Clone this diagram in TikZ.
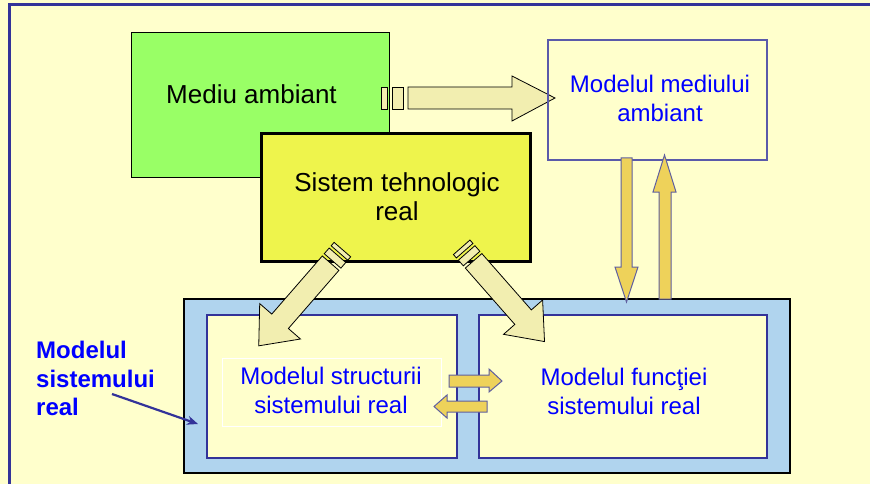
\documentclass[tikz,border=0pt]{standalone}
\usepackage{fontspec}
\setmainfont{Liberation Sans}
\usetikzlibrary{arrows.meta}
\definecolor{PaleYellow}{RGB}{255,255,204}
\definecolor{FrameBlue}{RGB}{51,51,153}
\definecolor{BoxBlue}{RGB}{90,90,170}
\definecolor{GreenBox}{RGB}{153,255,102}
\definecolor{LimeBox}{RGB}{238,244,76}
\definecolor{Khaki}{RGB}{242,238,176}
\definecolor{Gold}{RGB}{238,210,90}
\definecolor{GreyBlue}{RGB}{95,95,160}
\definecolor{SkyBox}{RGB}{176,212,238}

\tikzset{
  khakiarrow/.style={fill=Khaki, draw=black, line width=0.8pt},
  goldarrow/.style={fill=Gold, draw=GreyBlue, line width=1pt},
  innerbox/.style={fill=PaleYellow, draw=FrameBlue, line width=2pt},
  bluetext/.style={text=blue, font=\fontsize{24}{28.5}\selectfont, align=center, inner sep=0pt},
  blacktext/.style={text=black, font=\fontsize{26}{28.5}\selectfont, align=center, inner sep=0pt}
}

\begin{document}
\begin{tikzpicture}[x=1pt, y=-1pt]
            %% Background and frame
            \fill[PaleYellow] (0,0) rectangle (870,484);
            \useasboundingbox (0,0) rectangle (870,484);
            \draw[FrameBlue, line width=3pt] (9.5,484) -- (9.5,4.7) -- (870,4.7);
            %% Environment
            \draw[fill=GreenBox, line width=0.8pt] (131,32) rectangle (389,177);
            \node[blacktext, anchor=base] (mediu) at (251.5,104) {Mediu ambiant};
            \draw[khakiarrow] (381,87) rectangle (387,109);
            \draw[khakiarrow] (392,87) rectangle (403,109);
            \draw[khakiarrow] (408,87) -- (512,87) -- (512,76) -- (555,98) -- (512,121) -- (512,109) -- (408,109) -- cycle;
            \draw[BoxBlue, line width=1.5pt] (548,40) rectangle (767,160);
            \node[bluetext] (modmediu) at (660,98.5) {Modelul mediului\\ambiant};
            %% Real system
            \draw[fill=LimeBox, line width=3pt] (261,134) rectangle (530,261);
            \node[blacktext] (sistem) at (397,196.5) {Sistem tehnologic\\real};
            %% Model of the real system
            \draw[fill=SkyBox, line width=2pt] (184,299) rectangle (790,473);
            \draw[innerbox] (207,315) rectangle (457,458);
            \draw[innerbox] (479,315) rectangle (767,458);
            \draw[white, line width=0.8pt] (222,358) rectangle (441,426);
            \node[bluetext] (structura) at (331,390.5) {Modelul structurii\\sistemului real};
            \node[bluetext] (functia) at (624,391.5) {Modelul funcţiei\\sistemului real};
            %% Diagonal arrows
            \begin{scope}[shift={(342.4,249.6)}, rotate=-131]
            \draw[khakiarrow] (0,-11) rectangle (4.5,11);
            \draw[khakiarrow] (7.5,-11) rectangle (15,11);
            \draw[khakiarrow] (18,-11) -- (95,-11) -- (95,-27) -- (127.5,0) -- (95,27) -- (95,11) -- (18,11) -- cycle;
            \end{scope}
            \begin{scope}[shift={(461.7,247.3)}, rotate=-48.7]
            \draw[khakiarrow] (0,-11) rectangle (4.5,11);
            \draw[khakiarrow] (7.5,-11) rectangle (15,11);
            \draw[khakiarrow] (18,-11) -- (93,-11) -- (93,-26) -- (125.5,0) -- (93,26) -- (93,11) -- (18,11) -- cycle;
            \end{scope}
            %% Exchange arrows
            \draw[goldarrow] (621,158) -- (632,158) -- (632,267) -- (638,267) -- (626.5,302) -- (615,267) -- (621,267) -- cycle;
            \draw[goldarrow] (659,299) -- (671,299) -- (671,192) -- (676,192) -- (664.5,155) -- (653,192) -- (659,192) -- cycle;
            \draw[goldarrow] (449,375) -- (489,375) -- (489,369) -- (502,381) -- (489,392) -- (489,387) -- (449,387) -- cycle;
            \draw[goldarrow] (487,401) -- (447,401) -- (447,395) -- (434,406.5) -- (447,418) -- (447,412) -- (487,412) -- cycle;
            %% Label
            \node[text=blue, font=\fontsize{24}{28.5}\selectfont\bfseries, align=left, inner sep=0pt, anchor=west] (lbl) at (36,378.5) {Modelul\\sistemului\\real};
            \coordinate (lbltail) at (112,394);
            \coordinate (lbltip) at (198,424);
            \draw[FrameBlue, line width=2.2pt, -{Stealth[length=11pt, width=9pt]}] (lbltail) -- (lbltip);
\end{tikzpicture}
\end{document}
